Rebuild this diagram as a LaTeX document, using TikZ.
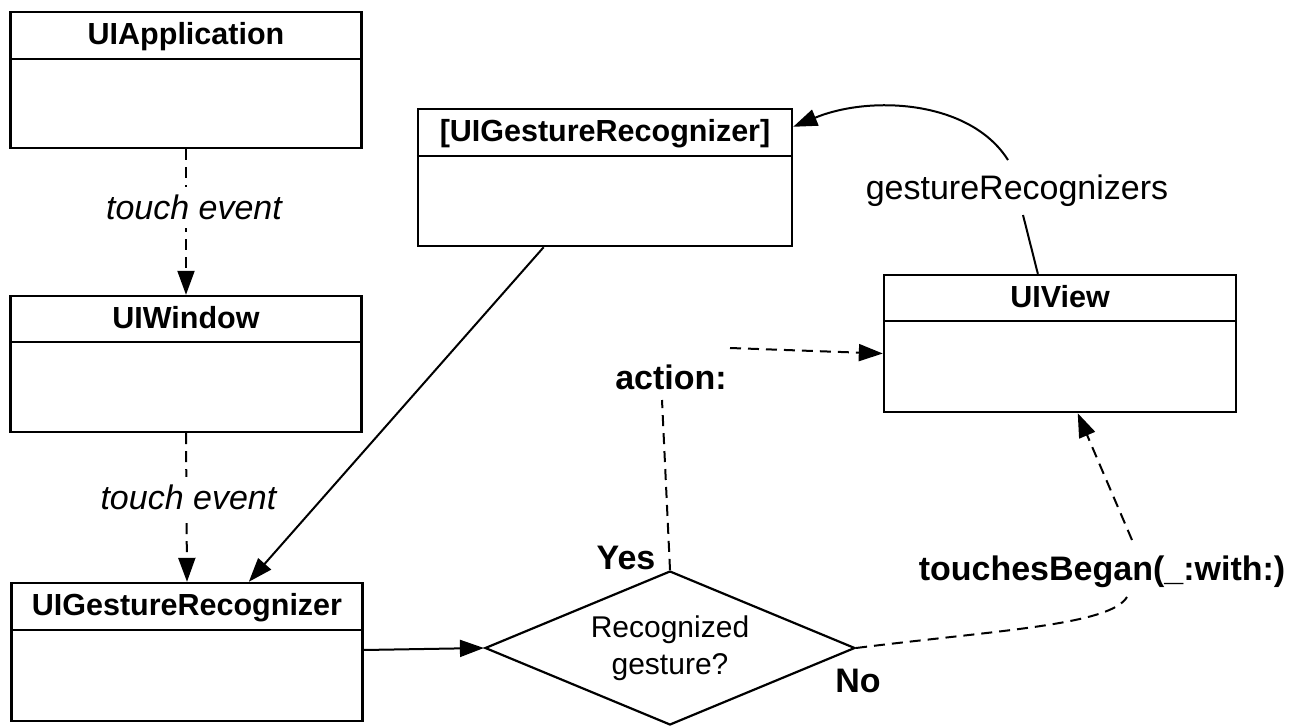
\documentclass[tikz,border=0pt]{standalone}
\usepackage{fontspec}
\setmainfont{Liberation Sans}
\usetikzlibrary{arrows.meta,shapes.geometric,calc}
\begin{document}
\begin{tikzpicture}[x=1pt,y=-1pt,
  classbox/.style={draw, line width=2.4pt, inner sep=0pt, minimum width=351pt, minimum height=136pt},
  classtitle/.style={font=\fontsize{30.5}{36}\selectfont\bfseries, inner sep=0pt, anchor=base},
  divider/.style={line width=2.4pt},
  conn/.style={line width=2pt},
  arr/.style={-{Triangle[length=24pt,width=17pt]}},
  dsh/.style={dash pattern=on 11pt off 7pt},
  lbl/.style={font=\fontsize{34}{40}\selectfont, inner sep=2pt},
  blbl/.style={font=\fontsize{34}{40}\selectfont\bfseries, inner sep=2pt},
  ilbl/.style={font=\fontsize{34}{40}\selectfont\itshape, inner sep=8pt, fill=white},
]
\useasboundingbox (0,0) rectangle (1298,727);

% UIApplication
\node[classbox] (app) at (186,80) {};
\draw[divider] ($(app.north west)+(0,48)$) -- ($(app.north east)+(0,48)$);
\node[classtitle] (appT) at ($(app.north)+(0,34)$) {UIApplication};

% UIWindow
\node[classbox] (win) at (186,364) {};
\draw[divider] ($(win.north west)+(0,47)$) -- ($(win.north east)+(0,47)$);
\node[classtitle] (winT) at ($(win.north)+(0,34)$) {UIWindow};

% UIGestureRecognizer
\node[classbox, minimum height=138pt] (gr) at (187,652) {};
\draw[divider] ($(gr.north west)+(0,48)$) -- ($(gr.north east)+(0,48)$);
\node[classtitle] (grT) at ($(gr.north)+(0,34)$) {UIGestureRecognizer};

% [UIGestureRecognizer]
\node[classbox, minimum width=374pt, minimum height=137pt] (grs) at (605,177.5) {};
\draw[divider] ($(grs.north west)+(0,48)$) -- ($(grs.north east)+(0,48)$);
\node[classtitle] (grsT) at ($(grs.north)+(0,34)$) {[UIGestureRecognizer]};

% UIView
\node[classbox, minimum width=352pt, minimum height=137pt] (view) at (1060,343.5) {};
\draw[divider] ($(view.north west)+(0,47)$) -- ($(view.north east)+(0,47)$);
\node[classtitle] (viewT) at ($(view.north)+(0,34)$) {UIView};

% Decision
\node[draw, diamond, line width=2.2pt, aspect=2.4, minimum width=370pt, minimum height=154pt,
      inner sep=0pt, align=center, font=\fontsize{30}{37}\selectfont] (dia) at (670,648) {Recognized\\gesture?};

% labels
\node[blbl] (act) at (671,377) {action:};
\node[blbl] (yes) at (626,558) {Yes};
\node[blbl] (no) at (858,681) {No};
\node[lbl] (grl) at (1017,191) {gestureRecognizers};
\node[blbl] (tb) at (1102,572) {touchesBegan(\_:with:)};

% free ends
\coordinate (actB) at (662,400);
\coordinate (actR) at (730,348);
\coordinate (grlB) at (1023,215);
\coordinate (grlT) at (1008,160);
\coordinate (tbB) at (1127,597);
\coordinate (tbT) at (1132,540);

% connectors
\draw[conn,dsh,arr] (app.south) -- node[ilbl, pos=0.4, xshift=8pt] {touch event} (win.north);
\draw[conn,dsh,arr] (win.south) -- node[ilbl, pos=0.43, xshift=2pt] {touch event} (gr.north);
\draw[conn,arr] ($(grs.south west)!0.337!(grs.south east)$) -- ($(gr.north west)!0.675!(gr.north east)$);
\draw[conn,arr] ($(gr.east)+(0,-2)$) -- (dia.west);
\draw[conn,dsh] (dia.north) -- (actB);
\draw[conn,dsh,arr] (actR) -- ($(view.west)+(0,10)$);
\draw[conn] ($(view.north west)!0.4375!(view.north east)$) -- (grlB);
\draw[conn,arr] (grlT) .. controls (970,100) and (870,95) .. ($(grs.north east)+(0,19)$);
\draw[conn,dsh] (dia.east) .. controls (1000,630) and (1110,625) .. (tbB);
\draw[conn,dsh,arr] (tbT) -- ($(view.south west)!0.55!(view.south east)$);
\end{tikzpicture}
\end{document}
